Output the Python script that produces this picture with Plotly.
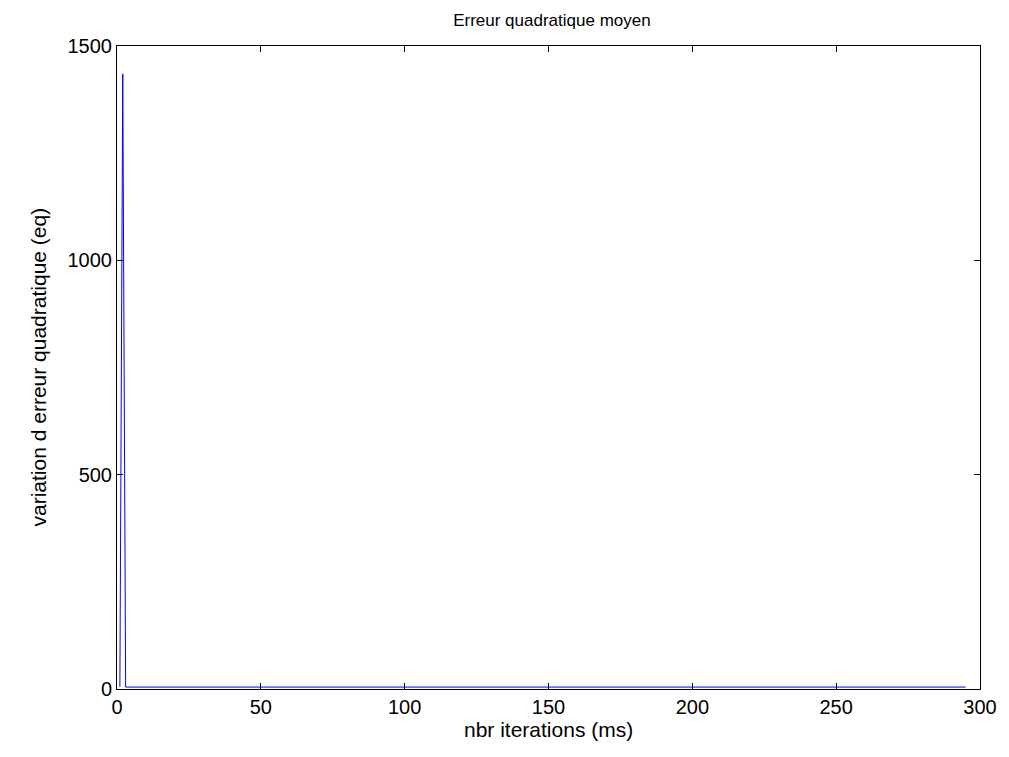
import plotly.graph_objects as go

# data
iterations = [1, 2, 3, 50, 100, 150, 200, 250, 295]
eq_values = [5, 1435, 4.5, 4.5, 4.5, 4.5, 4.5, 4.5, 4.5]

x_ticks = [0, 50, 100, 150, 200, 250, 300]
y_ticks = [0, 500, 1000, 1500]

title_text = "Erreur quadratique moyen"
x_label = "nbr iterations (ms)"
y_label = "variation d erreur quadratique (eq)"

fig = go.Figure()
fig.add_trace(go.Scatter(x=iterations, y=eq_values, mode="lines",
                         line=dict(color="#0000ff", width=1), showlegend=False))

FAM = "Liberation Sans, Arial, sans-serif"
tick_font = dict(family=FAM, size=20, color="black")
label_font = dict(family=FAM, size=21, color="black")

fig.update_layout(
    width=1009, height=757,
    margin=dict(l=117, r=22, t=46, b=68),
    paper_bgcolor="white", plot_bgcolor="white",
    font=tick_font,
    title=dict(text=title_text, x=0.547, xanchor="center",
               y=1 - 20 / 757, yanchor="middle",
               font=dict(family=FAM, size=17, color="black")),
    xaxis=dict(range=[0, 300], tickvals=x_ticks, ticks="inside", ticklen=6,
               tickcolor="black", showline=True, linecolor="black", linewidth=1,
               mirror="ticks", showgrid=False, zeroline=False,
               tickfont=tick_font),
    yaxis=dict(range=[0, 1500], tickvals=y_ticks, ticks="inside", ticklen=6,
               tickcolor="black", showline=True, linecolor="black", linewidth=1,
               mirror="ticks", showgrid=False, zeroline=False,
               tickfont=tick_font),
    annotations=[
        dict(text=x_label, xref="paper", yref="paper", x=0.5, y=0,
             xanchor="center", yanchor="middle", yshift=-40, showarrow=False,
             font=label_font),
        dict(text=y_label, xref="paper", yref="paper", x=0, y=0.5,
             xanchor="center", yanchor="middle", xshift=-79, textangle=-90,
             showarrow=False, font=label_font),
    ],
)

fig.write_html("out.html")
